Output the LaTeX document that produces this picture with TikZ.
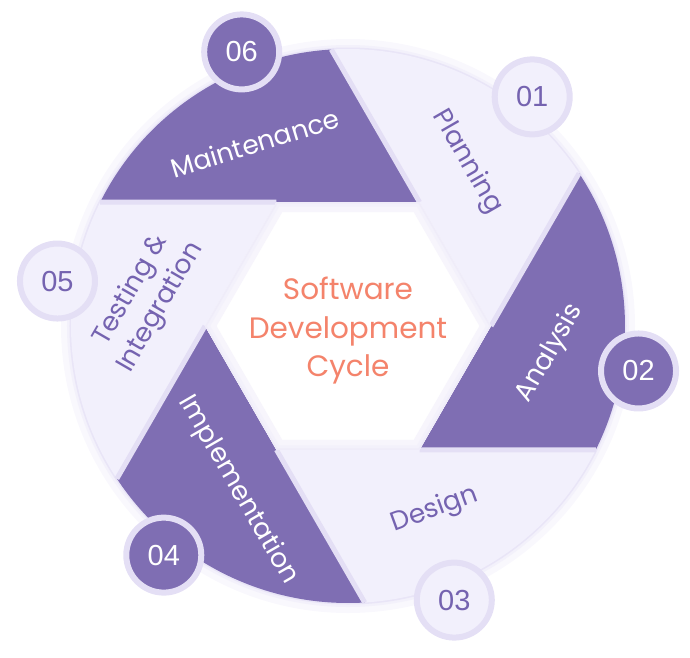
\documentclass[tikz,border=0pt]{standalone}
\usepackage{fontspec}
\setmainfont{Poppins}
\newfontfamily\numfont{Liberation Sans}
\usepackage{tikz}
\definecolor{sdpurple}{HTML}{7F6EB3}
\definecolor{sdlight}{HTML}{F2F0FC}
\definecolor{sdring}{HTML}{E4DFF5}
\definecolor{sdglow}{HTML}{F3F1FB}
\definecolor{sdsalmon}{HTML}{F4836B}
\definecolor{sdtext}{HTML}{7563B0}

\begin{document}
\begin{tikzpicture}[x=1pt, y=1pt,
  darkseg/.style={fill=sdpurple},
  lightseg/.style={fill=sdlight},
  seam/.style={draw=sdring, line width=5pt},
  darklabel/.style={text=white, font=\fontsize{26.5}{34}\selectfont},
  lightlabel/.style={text=sdtext, font=\fontsize{26.5}{34}\selectfont},
  badge/.style={circle, inner sep=0pt, minimum size=75pt, draw=sdring,
    line width=6pt, font=\numfont\fontsize{29}{30}\selectfont},
  darkbadge/.style={badge, fill=sdpurple, text=white},
  lightbadge/.style={badge, fill=sdlight, text=sdtext},
  centertext/.style={align=center, text=sdsalmon,
    font=\fontsize{29.5}{38.5}\selectfont},
]
  \useasboundingbox (-348,-331) rectangle (342,326);

  % soft rim round the wheel
  \fill[sdglow!50] (0,0) circle (287);
  \fill[sdglow] (0,0) circle (281);
  \fill[sdring!80] (0,0) circle (278.5);

  % the six blades
  \foreach \k/\kind in {0/lightseg, 1/darkseg, 2/lightseg, 3/darkseg, 4/lightseg, 5/darkseg}
    \path[\kind] ({60*\k}:143) -- ({60*\k+33.45}:277)
      arc[start angle={60*\k+33.45}, end angle={60*\k+93.45}, radius=277] -- cycle;
  \foreach \k in {0,...,5}
    \draw[seam] ({60*(\k+1)}:143) -- ({60*\k+93.45}:277);

  % hexagon in the middle
  \fill[white] (0:143) -- (60:143) -- (120:143) -- (180:143) -- (240:143) -- (300:143) -- cycle;
  \begin{scope}
    \clip (0:143) -- (60:143) -- (120:143) -- (180:143) -- (240:143) -- (300:143) -- cycle;
    \draw[sdglow!70, line width=20pt] (0:143) -- (60:143) -- (120:143) -- (180:143) -- (240:143) -- (300:143) -- cycle;
    \draw[sdglow, line width=9pt] (0:143) -- (60:143) -- (120:143) -- (180:143) -- (240:143) -- (300:143) -- cycle;
    \draw[sdring!60, line width=3pt] (0:143) -- (60:143) -- (120:143) -- (180:143) -- (240:143) -- (300:143) -- cycle;
  \end{scope}

  \node[centertext] (title) at (0,-5) {Software\\Development\\Cycle};

  % blade labels
  \node[lightlabel, rotate=-60] (planning) at (119,164) {Planning};
  \node[darklabel, rotate=60] (analysis) at (202,-27) {Analysis};
  \node[lightlabel, rotate=20] (design) at (87,-184) {Design};
  \node[darklabel, rotate=-60] (implementation) at (-110,-164) {Implementation};
  \node[lightlabel, rotate=60, align=center] (testing) at (-202,27) {Testing \&\\Integration};
  \node[darklabel, rotate=17] (maintenance) at (-93,183) {Maintenance};

  % step numbers
  \foreach \n/\ang/\kind in {01/51.2/lightbadge, 02/-8.8/darkbadge, 03/-68.8/lightbadge,
      04/-128.8/darkbadge, 05/171.2/lightbadge, 06/111.2/darkbadge}
    \node[\kind] (step\n) at (\ang:294) {\n};
\end{tikzpicture}
\end{document}
